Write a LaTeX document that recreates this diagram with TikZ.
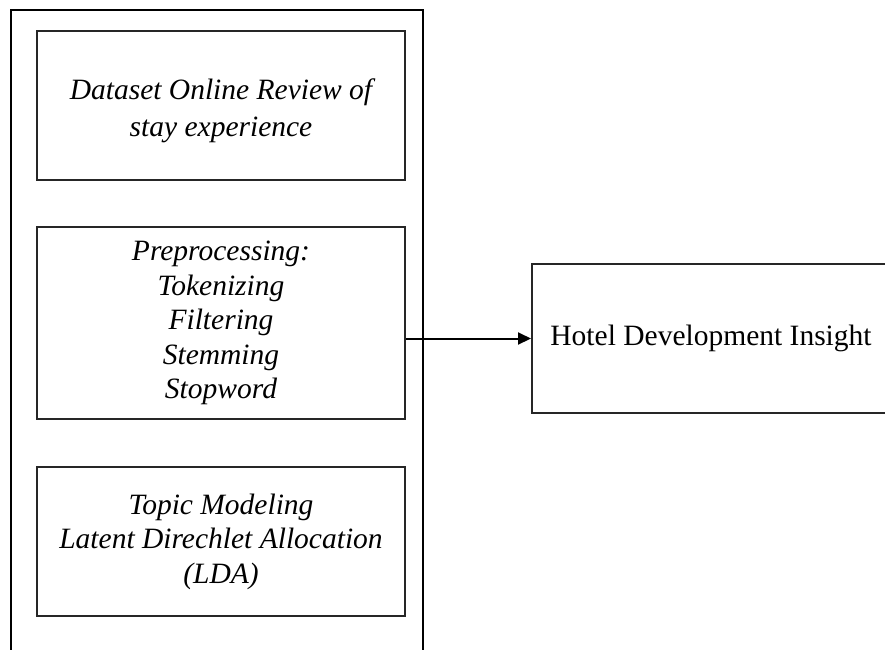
\documentclass[tikz,border=0pt]{standalone}
\usepackage{fontspec}
\setmainfont{Liberation Serif}
\usetikzlibrary{arrows.meta}
\begin{document}
\begin{tikzpicture}[x=1pt,y=-1pt,
  box/.style={draw=black!85,line width=2pt,minimum width=368pt,align=center,
    font=\fontsize{29.5}{34.5}\selectfont\itshape,inner sep=0pt},
  arr/.style={draw=black,line width=2pt,-{Triangle[length=13pt,width=12pt]}}]
\useasboundingbox (0,0) rectangle (885,649);
\clip (0,0) rectangle (885,649);
\fill[white] (0,0) rectangle (885,649);
\node[minimum width=412pt,minimum height=680pt,inner sep=0pt] (outer) at (217,350) {};
\draw[line width=2pt] (outer.south west) -- (outer.north west) -- (outer.north east) -- (outer.south east);
\node[box,minimum height=149pt] (b1) at (221,105.5) {\fontsize{29.5}{37}\selectfont\begin{tabular}{@{}c@{}}\rule{0pt}{36pt}Dataset Online Review of\\stay experience\end{tabular}};
\node[box,minimum height=192pt] (b2) at (221,323) {Preprocessing:\\Tokenizing\\Filtering\\Stemming\\Stopword};
\node[box,minimum height=149pt] (b3) at (221,541.5) {Topic Modeling\\Latent Direchlet Allocation\\(LDA)};
\node[draw=black!85,line width=2pt,minimum width=358pt,minimum height=149pt,inner sep=0pt,
  font=\fontsize{29.5}{34.5}\selectfont] (h) at (711,338.5) {Hotel Development Insight};
\draw[arr] (b2.east |- h.west) -- (h.west);
\end{tikzpicture}
\end{document}
